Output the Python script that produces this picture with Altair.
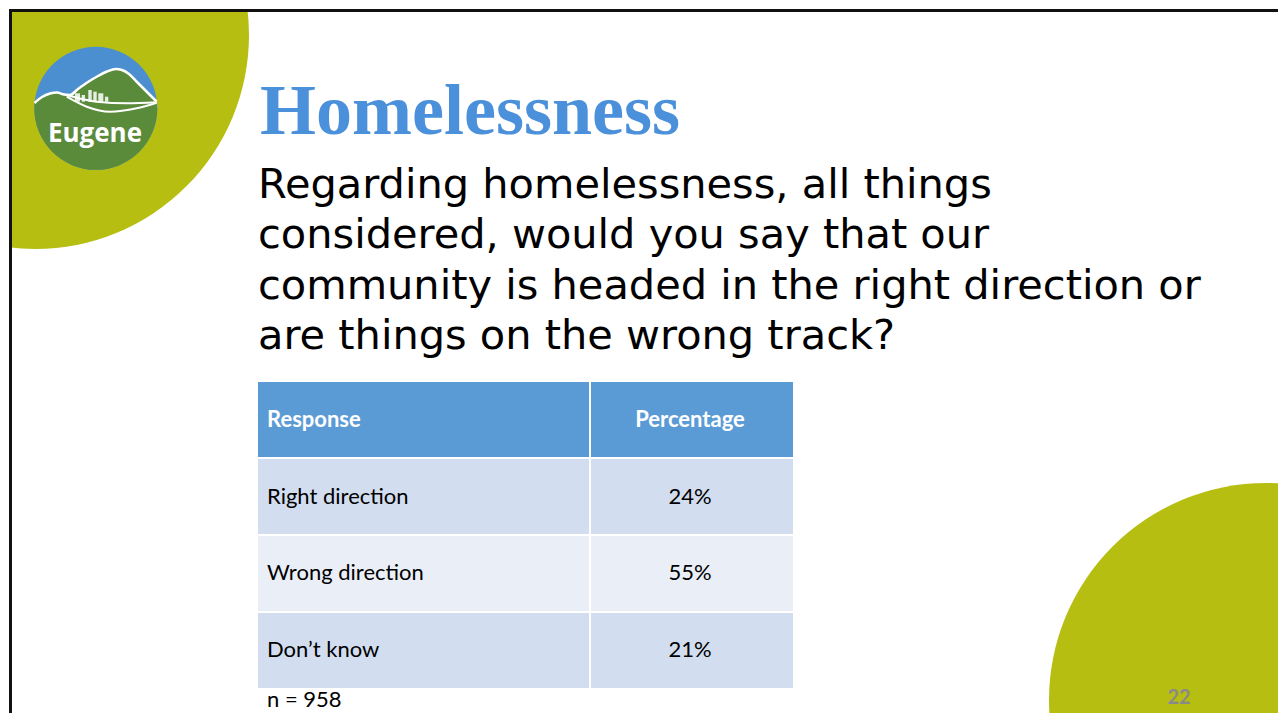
import math
import altair as alt
import pandas as pd

# ---------------- data ----------------
responses = ["Right direction", "Wrong direction", "Don\u2019t know"]
percentages = [24, 55, 21]
header_labels = ["Response", "Percentage"]
sample_size = 958
title_text = "Homelessness"
question_lines = [
    "Regarding homelessness, all things",
    "considered, would you say that our",
    "community is headed in the right direction or",
    "are things on the wrong track?",
]
page_number = "22"
logo_text = "Eugene"

# ---------------- layout / style ----------------
W, H = 1270, 705
GREEN = "#B6BE12"
HEADER = "#5B9BD5"
ROW_A = "#D2DEEF"
ROW_B = "#EAEFF7"
TITLE_BLUE = "#4A90DA"
LOGO_BLUE = "#4B8FD1"
LOGO_GREEN = "#5A8B3B"
TABLE_FONT = 22

one = pd.DataFrame({"k": [0]})

# table frame
row_keys = ["__header__"] + responses
table = pd.DataFrame({
    "row": row_keys,
    "left": [header_labels[0]] + responses,
    "right": [header_labels[1]] + [f"{p}%" for p in percentages],
    "fill": [HEADER] + [ROW_A if i % 2 == 0 else ROW_B for i in range(len(responses))],
    "is_header": [True] + [False] * len(responses),
})

yrow = alt.Y(
    "row:N",
    sort=row_keys,
    scale=alt.Scale(domain=row_keys, range=[374, 680], paddingInner=0.026, paddingOuter=0),
    axis=None,
)

cells_left = alt.Chart(table).mark_rect().encode(
    x=alt.value(250), x2=alt.value(581), y=yrow, fill=alt.Fill("fill:N", scale=None)
)
cells_right = alt.Chart(table).mark_rect().encode(
    x=alt.value(583), x2=alt.value(785), y=yrow, fill=alt.Fill("fill:N", scale=None)
)
head_left = alt.Chart(table).transform_filter("datum.is_header").mark_text(
    align="left", baseline="middle", font="Lato", fontSize=TABLE_FONT, fontWeight="bold", color="white"
).encode(x=alt.value(259), y=yrow, text="left:N")
head_right = alt.Chart(table).transform_filter("datum.is_header").mark_text(
    align="center", baseline="middle", font="Lato", fontSize=TABLE_FONT, fontWeight="bold", color="white"
).encode(x=alt.value(682), y=yrow, text="right:N")
body_left = alt.Chart(table).transform_filter("!datum.is_header").mark_text(
    align="left", baseline="middle", font="Lato", fontSize=TABLE_FONT, color="black"
).encode(x=alt.value(259), y=yrow, text="left:N")
body_right = alt.Chart(table).transform_filter("!datum.is_header").mark_text(
    align="center", baseline="middle", font="Lato", fontSize=TABLE_FONT, color="black"
).encode(x=alt.value(682), y=yrow, text="right:N")

# decorative background discs (vega circle: size = diameter^2)
disc_tl = alt.Chart(one).mark_circle(size=(2 * 214) ** 2, color=GREEN, opacity=1).encode(
    x=alt.value(27), y=alt.value(27)
)
disc_br = alt.Chart(one).mark_circle(size=(2 * 217) ** 2, color=GREEN, opacity=1).encode(
    x=alt.value(1258), y=alt.value(692)
)
mask_left = alt.Chart(one).mark_rect(color="white").encode(
    x=alt.value(0), x2=alt.value(1), y=alt.value(0), y2=alt.value(H)
)
mask_top = alt.Chart(one).mark_rect(color="white").encode(
    x=alt.value(0), x2=alt.value(W), y=alt.value(0), y2=alt.value(1)
)

# logo
LCX, LCY, LR = 87.8, 100.3, 61.5
logo_sky = alt.Chart(one).mark_circle(size=(2 * LR) ** 2, color=LOGO_BLUE, opacity=1).encode(
    x=alt.value(LCX), y=alt.value(LCY)
)
logo_low = alt.Chart(one).mark_arc(
    radius=LR, theta=math.pi / 2, theta2=3 * math.pi / 2, color=LOGO_GREEN
).encode(x=alt.value(LCX), y=alt.value(LCY))

hill_x = [26.5, 34, 42, 49, 56, 62, 70, 80, 90, 99, 108, 114, 121, 129, 137, 143, 148.5]
hill_y = [95, 89, 85.5, 84.5, 86.5, 87, 81, 74, 68, 63.5, 61, 62, 66, 74, 82, 88, 93.5]
hill = pd.DataFrame({"px": hill_x, "py": hill_y, "base": [LCY + 1] * len(hill_x)})
logo_hill = alt.Chart(hill).mark_area(color=LOGO_GREEN, opacity=1, interpolate="monotone").encode(
    x=alt.X("px:Q", scale=None), y=alt.Y("py:Q", scale=None), y2="base:Q"
)
logo_ridge = alt.Chart(hill).mark_line(color="white", strokeWidth=2.5, interpolate="monotone").encode(
    x=alt.X("px:Q", scale=None), y=alt.Y("py:Q", scale=None)
)
leaf = pd.DataFrame({
    "px": [58.7, 88.7, 118.7, 148.7, 58.7, 78.7, 102, 128.7, 148.7],
    "py": [87, 93.7, 95.3, 94.3, 88.7, 98.7, 103.7, 100.3, 94.7],
    "g": ["a"] * 4 + ["b"] * 5,
})
logo_leaf = alt.Chart(leaf).mark_line(color="white", strokeWidth=2, interpolate="monotone").encode(
    x=alt.X("px:Q", scale=None), y=alt.Y("py:Q", scale=None), detail="g:N"
)
bld = pd.DataFrame({
    "x0": [67, 73.7, 80.3, 85.3, 90.3, 97],
    "x1": [72, 77, 83.7, 88.7, 95.3, 100.3],
    "y0": [85.3, 87, 82, 83.7, 85.3, 88.7],
    "y1": [93.7] * 6,
})
logo_city = alt.Chart(bld).mark_rect(color="white", opacity=0.85).encode(
    x=alt.X("x0:Q", scale=None), x2="x1:Q", y=alt.Y("y0:Q", scale=None), y2="y1:Q"
)
logo_word = alt.Chart(one).mark_text(
    text=logo_text, font="Open Sans", fontSize=26, fontWeight="bold", color="white",
    align="center", baseline="alphabetic"
).encode(x=alt.value(87), y=alt.value(133.7))

# slide border
border_left = alt.Chart(one).mark_rule(color="#111111", strokeWidth=3).encode(
    x=alt.value(2.5), y=alt.value(1), y2=alt.value(H)
)
border_top = alt.Chart(one).mark_rule(color="#111111", strokeWidth=3).encode(
    y=alt.value(2.5), x=alt.value(1), x2=alt.value(W)
)

# texts
title = alt.Chart(one).mark_text(
    text=title_text, font="Liberation Serif", fontSize=72, fontWeight="bold", color=TITLE_BLUE,
    align="left", baseline="alphabetic"
).encode(x=alt.value(252), y=alt.value(126))
question = alt.Chart(one).mark_text(
    text=question_lines, font="DejaVu Sans", fontSize=41.5, color="black",
    align="left", baseline="alphabetic", lineHeight=50.6
).encode(x=alt.value(250), y=alt.value(189.7))
n_note = alt.Chart(one).mark_text(
    text=f"n = {sample_size}", font="Lato", fontSize=TABLE_FONT, color="black",
    align="left", baseline="alphabetic"
).encode(x=alt.value(259), y=alt.value(699))
page_no = alt.Chart(one).mark_text(
    text=page_number, font="Lato", fontSize=20, fontWeight="bold", color="#8A8A8A",
    align="center", baseline="alphabetic"
).encode(x=alt.value(1171), y=alt.value(696))

chart = alt.layer(
    disc_tl, disc_br, mask_left, mask_top,
    logo_sky, logo_low, logo_hill, logo_ridge, logo_leaf, logo_city, logo_word,
    border_left, border_top,
    title, question,
    cells_left, cells_right, head_left, head_right, body_left, body_right,
    n_note, page_no,
).resolve_scale(x="independent", y="independent").properties(
    width=W, height=H,
    autosize=alt.AutoSizeParams(type="none"),
    padding=0,
    background="white",
).configure_view(stroke=None)

chart.save("out.html", embed_options={"renderer": "svg", "actions": False})
